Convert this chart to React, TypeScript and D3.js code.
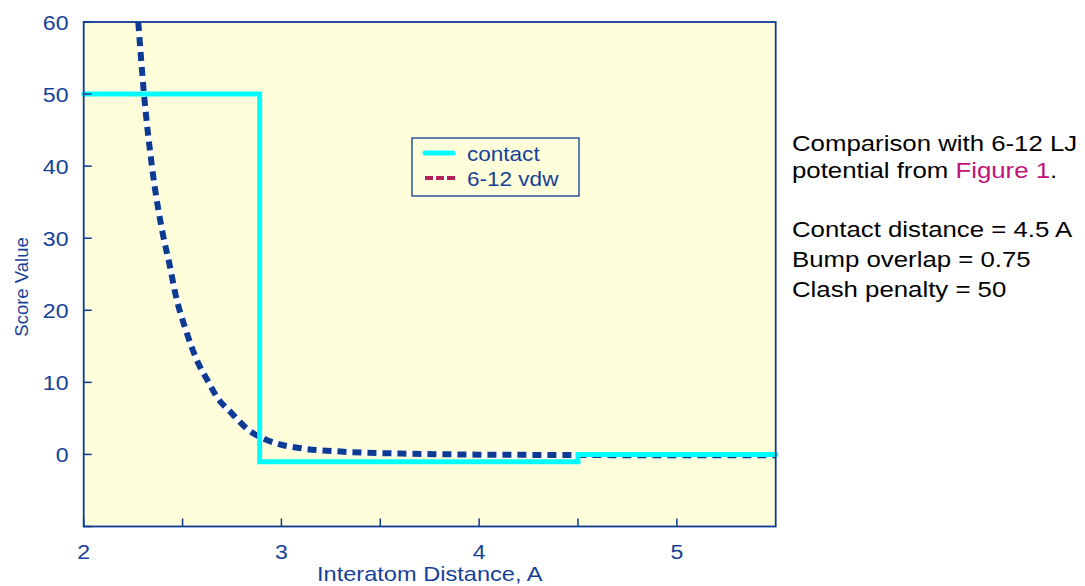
import * as d3 from "d3";

// contact step function (distance, score)
const contactX = [2, 2.89, 2.89, 4.5, 4.5, 5.5];
const contactY = [50, 50, -1, -1, 0, 0];

// 6-12 vdw curve
const vdwX = [2.276, 2.305, 2.345, 2.403, 2.433, 2.467, 2.516, 2.58, 2.626, 2.673, 2.749, 2.833, 2.909, 2.977, 3.1, 3.3, 3.6, 3.8, 4.0, 4.5, 5.0, 5.5];
const vdwY = [60, 50, 40, 30.2, 26.5, 21.9, 17.3, 12.6, 10.3, 8.0, 5.7, 3.4, 2.2, 1.5, 0.85, 0.4, 0.12, 0.03, -0.03, -0.08, -0.12, -0.1];

const xTicks = [2, 2.5, 3, 3.5, 4, 4.5, 5];
const xLabels = [2, 3, 4, 5];
const yTicks = [-10, 0, 10, 20, 30, 40, 50, 60];
const yLabels = [0, 10, 20, 30, 40, 50, 60];

const legendItems = ["contact", "6-12 vdw"];
const noteLines = ["Comparison with 6-12 LJ", "potential from ", "", "Contact distance = 4.5 A", "Bump overlap = 0.75", "Clash penalty = 50"];

const NAVY = "#0d3b94";
const TEXT = "#163f98";
const CYAN = "#00ffff";
const CREAM = "#fefedb";
const FONT = "'Liberation Sans', Arial, sans-serif";

export default function App() {
  const width = 1085;
  const height = 586;
  const left = 83.7;
  const right = 775.7;
  const top = 22;
  const bottom = 526.5;

  const x = d3.scaleLinear().domain([2, 5.5]).range([left, right]);
  const y = d3.scaleLinear().domain([-10, 60]).range([bottom, top]);

  const contact = contactX.map((d, i) => [d, contactY[i]] as [number, number]);
  const vdw = vdwX.map((d, i) => [d, vdwY[i]] as [number, number]);

  const stepLine = d3
    .line<[number, number]>()
    .x((d) => x(d[0]))
    .y((d) => y(d[1]));
  const curve = d3
    .line<[number, number]>()
    .x((d) => x(d[0]))
    .y((d) => y(d[1]))
    .curve(d3.curveMonotoneX);

  const stretch = (tx: number, ty: number, s: number) => `translate(${tx},${ty}) scale(${s},1)`;

  return (
    <svg
      width={width}
      height={height}
      style={{ position: "absolute", left: 0, top: 0, fontFamily: FONT }}
    >
      <rect x={left} y={top} width={right - left} height={bottom - top} fill={CREAM} />

      <defs>
        <clipPath id="plot">
          <rect x={left} y={top} width={right - left} height={bottom - top} />
        </clipPath>
      </defs>

      <g clipPath="url(#plot)">
        <path d={curve(vdw) ?? ""} fill="none" stroke="white" strokeWidth={6} />
        <path
          d={curve(vdw) ?? ""}
          fill="none"
          stroke={NAVY}
          strokeWidth={6}
          strokeDasharray="9,6"
        />
      </g>
      <path
        d={stepLine(contact) ?? ""}
        fill="none"
        stroke={CYAN}
        strokeWidth={5}
        strokeLinecap="round"
        strokeLinejoin="miter"
      />

      {/* frame */}
      <rect x={left} y={top} width={right - left} height={bottom - top} fill="none" stroke={NAVY} strokeWidth={1.8} />

      {/* ticks */}
      {xTicks.map((t) => (
        <line key={"xt" + t} x1={x(t)} x2={x(t)} y1={bottom} y2={bottom - 8} stroke={NAVY} strokeWidth={1.5} />
      ))}
      {yTicks.map((t) => (
        <line key={"yt" + t} x1={left} x2={left + 8} y1={y(t)} y2={y(t)} stroke={NAVY} strokeWidth={1.5} />
      ))}

      {xLabels.map((t) => (
        <text
          key={"xl" + t}
          transform={stretch(x(t), 559, 1.1)}
          textAnchor="middle"
          fontSize={21}
          fill={TEXT}
        >
          {t}
        </text>
      ))}
      {yLabels.map((t) => (
        <text
          key={"yl" + t}
          transform={stretch(68.5, y(t) + 8, 1.1)}
          textAnchor="end"
          fontSize={21}
          fill={TEXT}
        >
          {t}
        </text>
      ))}

      <text transform={stretch((left + right) / 2, 581, 1.18)} textAnchor="middle" fontSize={20} fill={TEXT}>
        Interatom Distance, A
      </text>
      <text
        transform={`translate(28,287) rotate(-90)`}
        textAnchor="middle"
        fontSize={18.5}
        fill={TEXT}
      >
        Score Value
      </text>

      {/* legend */}
      <rect x={412} y={138} width={167} height={58} fill={CREAM} stroke={NAVY} strokeWidth={1.3} />
      <line x1={425} x2={453} y1={153} y2={153} stroke={CYAN} strokeWidth={5} strokeLinecap="round" />
      <line x1={423} x2={455} y1={178} y2={178} stroke="white" strokeWidth={4} />
      <line x1={423} x2={455} y1={178} y2={178} stroke="#b22157" strokeWidth={4} strokeDasharray="0,2,8,3,8,3,8" />
      {legendItems.map((s, i) => (
        <text key={s} transform={stretch(467, 161 + i * 25, 1.1)} fontSize={20.5} fill={TEXT}>
          {s}
        </text>
      ))}

      {/* note */}
      {noteLines.map((s, i) => {
        const base = [151, 178, 207, 237, 267, 297][i];
        return (
          <text key={"n" + i} transform={stretch(792, base, 1.2)} fontSize={21.5} fill="#000">
            {s}
            {i === 1 && <tspan fill="#c0127a">Figure 1</tspan>}
            {i === 1 && "."}
          </text>
        );
      })}
    </svg>
  );
}
